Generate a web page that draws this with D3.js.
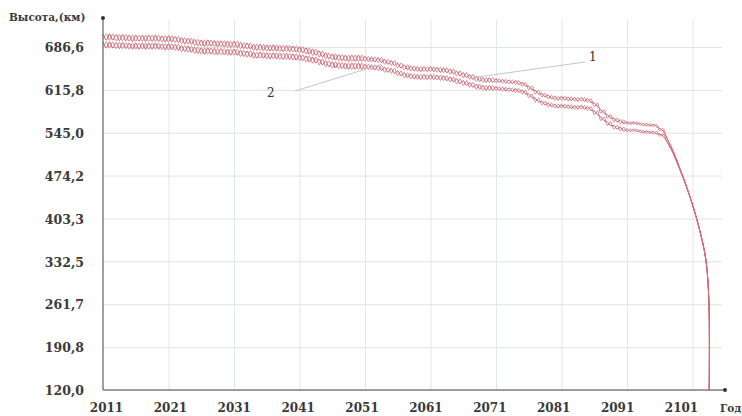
<!DOCTYPE html>
<html><head><meta charset="utf-8">
<script src="https://cdn.jsdelivr.net/npm/d3@7"></script>
<style>body{margin:0;background:#fff}svg{display:block}</style>
</head><body>
<svg id="c" width="742" height="416"></svg>
<script>
// ---- data ----
const startYear = 2011;
// series 1 (upper curve), mean altitude, km, one value per year 2011..2103
const alt1 = [703,703,702,702,701,701,701,701,701,700,
              700,699,697,696,694,693,693,692,692,691,
              691,689,688,686,686,685,685,684,684,683,
              682,680,678,675,672,670,669,668,668,668,
              667,666,665,662,660,656,653,651,650,650,
              650,649,648,646,643,640,637,634,632,632,
              631,630,629,628,625,619,612,607,604,602,
              602,601,600,600,598,591,580,572,566,563,
              561,561,559,558,557,550,538,516,488,459,
              426,388,338];
// series 2 (lower curve)
const alt2 = [690,690,689,689,688,688,688,688,688,687,
              687,686,684,683,681,680,680,679,679,678,
              678,676,675,673,673,672,672,671,671,670,
              669,667,665,662,659,657,656,655,655,655,
              654,653,652,649,647,643,640,638,637,637,
              637,636,635,633,630,627,624,621,619,619,
              618,617,616,615,612,606,599,594,591,589,
              589,588,587,587,585,578,568,560,554,551,
              549,549,547,546,545,541,532,512,486,458,
              426,388,338];
// half-height of the yearly oscillation, km
const swing = [5,5,5,5,5,5,5,5,5,5,
               5,5,5,5,5,5,5,5,5,5,
               5,5,5,5,5,5,5,5,5,5,
               5,5,5,5,5,5,5,5,5,5,
               4,4,4,4,4,4,4,4,4,4,
               4,4,4,4,4,4,4,4,4,4,
               3,3,3,3,3,3,3,3,3,3,
               3,3,3,3,3,3,3,3,3,3,
               2,2,2,2,2,2,0,0,0,0,
               0,0,0];
// final re-entry plunge
const tailYears = [2103.5, 2103.55];
const tailAlt = [268, 120];

const yTicks = [120.0, 190.8, 261.7, 332.5, 403.3, 474.2, 545.0, 615.8, 686.6];
const xTicks = [2011, 2021, 2031, 2041, 2051, 2061, 2071, 2081, 2091, 2101];
const seriesLabels = ["1", "2"];
const yTitle = "Высота,(км)";
const xTitle = "Год";

// ---- chart ----
const svg = d3.select("#c");
const L = 103, R = 722, T = 20, B = 390;
const x = d3.scaleLinear().domain([2011, 2101]).range([103, 692.5]);
const xLab = d3.scaleLinear().domain([2011, 2101]).range([106, 681]);
const y = d3.scaleLinear().domain([120, 686.6]).range([390, 47]);

const serif = "'DejaVu Serif', 'Liberation Serif', serif";

// grid
svg.append("g").attr("transform", `translate(${L},0)`)
  .call(d3.axisLeft(y).tickValues(yTicks).tickSize(-(R - L)).tickFormat(""))
  .call(g => g.select(".domain").remove())
  .call(g => g.selectAll("line").attr("stroke", "#e2e2e2").attr("stroke-width", 1));
svg.append("g").attr("transform", `translate(0,${B})`)
  .call(d3.axisBottom(x).tickValues(xTicks.slice(1)).tickSize(-(B - T)).tickFormat(""))
  .call(g => g.select(".domain").remove())
  .call(g => g.selectAll("line").attr("stroke", "#e0e6ea").attr("stroke-width", 1));

// tick labels
svg.append("g").attr("transform", `translate(${L},0)`)
  .call(d3.axisLeft(y).tickValues(yTicks).tickSize(0).tickPadding(19)
    .tickFormat(d => d.toFixed(1).replace(".", ",")))
  .call(g => g.select(".domain").remove())
  .call(g => g.selectAll("text").attr("font-family", serif).attr("font-size", 12.5)
    .attr("font-weight", "bold").attr("fill", "#3a3a3a").attr("dy", "0.38em"));
svg.append("g").attr("transform", `translate(0,${B})`)
  .call(d3.axisBottom(xLab).tickValues(xTicks).tickSize(0).tickPadding(13)
    .tickFormat(d3.format("d")))
  .call(g => g.select(".domain").remove())
  .call(g => g.selectAll("text").attr("font-family", serif).attr("font-size", 12)
    .attr("font-weight", "bold").attr("fill", "#3a3a3a"));

// axes lines
svg.append("line").attr("x1", L).attr("x2", L).attr("y1", 18).attr("y2", B)
  .attr("stroke", "#808080").attr("stroke-width", 1.5);
svg.append("line").attr("x1", L).attr("x2", 725).attr("y1", B).attr("y2", B)
  .attr("stroke", "#808080").attr("stroke-width", 1.5);
svg.append("circle").attr("cx", L).attr("cy", 18).attr("r", 2).attr("fill", "#333");
svg.append("circle").attr("cx", 725).attr("cy", B).attr("r", 2).attr("fill", "#333");

svg.append("text").attr("x", 9).attr("y", 21).text(yTitle)
  .attr("font-family", serif).attr("font-size", 10.5).attr("font-weight", "bold").attr("fill", "#3a3a3a");
svg.append("text").attr("x", 720).attr("y", 412).text(xTitle)
  .attr("font-family", serif).attr("font-size", 10.5).attr("font-weight", "bold").attr("fill", "#3a3a3a");

// curves: each series drawn as two out-of-phase oscillating strands
const line = d3.line().x(d => x(d[0])).y(d => y(d[1])).curve(d3.curveCatmullRom);
function strands(alt) {
  const a = [], b = [];
  alt.forEach((m, i) => {
    const yr = startYear + i, w = swing[i];
    if (w > 0) {
      a.push([yr, m + w]); a.push([yr + 0.5, m - w]);
      b.push([yr, m - w]); b.push([yr + 0.5, m + w]);
    } else {
      a.push([yr, m]); b.push([yr, m]);
    }
  });
  tailYears.forEach((t, i) => { a.push([t, tailAlt[i]]); b.push([t, tailAlt[i]]); });
  return [a, b];
}
[alt1, alt2].forEach((alt) => {
  strands(alt).forEach((s, j) => {
    svg.append("path").attr("d", line(s)).attr("fill", "none")
      .attr("stroke", j === 0 ? "#b04a58" : "#dd7080")
      .attr("stroke-width", 1).attr("stroke-opacity", 0.9);
  });
});

// series labels with leader lines
const leaders = [
  {t: seriesLabels[0], lx: 589, ly: 61, x1: 585, y1: 62, yr: 2067.5, v: 636},
  {t: seriesLabels[1], lx: 267, ly: 97, x1: 295, y1: 91, yr: 2053.5, v: 658}
];
leaders.forEach(d => {
  svg.append("line").attr("x1", d.x1).attr("y1", d.y1).attr("x2", x(d.yr)).attr("y2", y(d.v))
    .attr("stroke", "#c4c4c4").attr("stroke-width", 1);
  svg.append("text").attr("x", d.lx).attr("y", d.ly).text(d.t)
    .attr("font-family", serif).attr("font-size", 12).attr("fill", "#333");
});
</script>
</body></html>
